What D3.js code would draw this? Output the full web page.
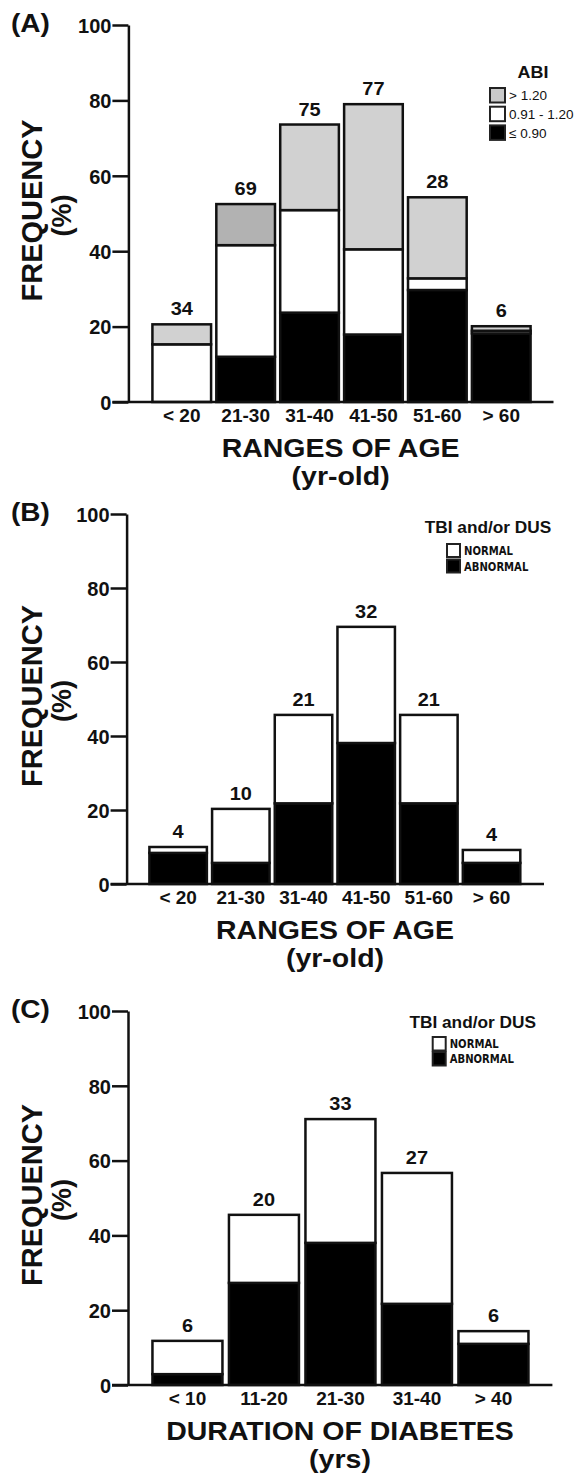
<html><head>
<meta charset="utf-8">
<title>ABI / TBI frequency by age and duration</title>
<script src="https://cdn.jsdelivr.net/npm/d3@7"></script>
<style>
  body { margin: 0; background: #fff; }
  svg { display: block; }
  text { font-family: "Liberation Sans", Arial, Helvetica, sans-serif; fill: #111; }
  .narrow { font-family: "Liberation Sans Narrow", "Arial Narrow", "DejaVu Sans Condensed", sans-serif; }
  .axis path, .axis line { stroke: #111; stroke-width: 2.5px; }
</style>
</head>
<body>
<script>

// ---- data (% of patients) ----
const ageGroups = ["< 20", "21-30", "31-40", "41-50", "51-60", "> 60"];
const durationGroups = ["< 10", "11-20", "21-30", "31-40", "> 40"];
const yTicks = [0, 20, 40, 60, 80, 100];

// (A) ABI classes by age range
const abiLow  = [0,    12.0, 23.7, 17.9, 29.7, 18.2];  // <= 0.90
const abiMid  = [15.3, 29.6, 27.2, 22.6, 3.1,  0.7];   // 0.91 - 1.20
const abiHigh = [5.3,  10.9, 22.7, 38.5, 21.5, 1.2];   // > 1.20
const abiN    = [34, 69, 75, 77, 28, 6];

// (B) TBI and/or DUS by age range
const ageAbnormal = [8.4, 5.7, 21.8, 38.1, 21.8, 5.7];
const ageNormal   = [1.6, 14.6, 23.9, 31.4, 23.9, 3.5];
const ageN        = [4, 10, 21, 32, 21, 4];

// (C) TBI and/or DUS by duration of diabetes
const durAbnormal = [2.9, 27.3, 38.0, 21.7, 11.0];
const durNormal   = [8.9, 18.2, 33.1, 35.0, 3.4];
const durN        = [6, 20, 33, 27, 6];

const abiLegend = [{key: "high", label: "> 1.20"}, {key: "mid", label: "0.91 - 1.20"}, {key: "low", label: "\u2264 0.90"}];
const tbiLegend = [{key: "normal", label: "NORMAL"}, {key: "abnormal", label: "ABNORMAL"}];

const fills = {low: "#000", mid: "#fff", high: "#d1d1d1", abnormal: "#000", normal: "#fff"};

const svg = d3.select("body").append("svg").attr("width", 579).attr("height", 1475);

function label(g, x, y, str, size, weight, anchor, sx) {
  return g.append("text")
    .attr("transform", `translate(${x},${y})` + (sx ? ` scale(${sx},1)` : ""))
    .attr("text-anchor", anchor)
    .style("font-size", size + "px")
    .style("font-weight", weight)
    .text(str);
}

const panels = [
  { tag: "(A)", cats: ageGroups, keys: ["low", "mid", "high"], series: [abiLow, abiMid, abiHigh], n: abiN,
    y0: 402, y100: 25, axisX: 128.4, xr: [149.8, 533.2], pad: 0.082, xEnd: 553.5,
    title: "RANGES OF AGE", sub: "(yr-old)", titleX: 340.6, dark: 1,
    legend: {type: "abi", items: abiLegend, tx: 533, ty: 78, bx: 490, by: 88, step: 18.7, bw: 15, bh: 14.5} },
  { tag: "(B)", cats: ageGroups, keys: ["abnormal", "normal"], series: [ageAbnormal, ageNormal], n: ageN,
    y0: 884, y100: 514, axisX: 126.6, xr: [146.8, 522.9], pad: 0.083, xEnd: 544,
    title: "RANGES OF AGE", sub: "(yr-old)", titleX: 335,
    legend: {type: "tbi", items: tbiLegend, tx: 488, ty: 533, bx: 447, by: 544, step: 15.5, bw: 13, bh: 13} },
  { tag: "(C)", cats: durationGroups, keys: ["abnormal", "normal"], series: [durAbnormal, durNormal], n: durN,
    y0: 1385, y100: 1011, axisX: 128, xr: [149.2, 531.7], pad: 0.085, xEnd: 552.4,
    title: "DURATION OF DIABETES", sub: "(yrs)", titleX: 340,
    legend: {type: "tbi", items: tbiLegend, tx: 472.7, ty: 1027.5, bx: 432.7, by: 1037, step: 15, bw: 13, bh: 13.5} }
];

panels.forEach(p => {
  const g = svg.append("g");
  const y = d3.scaleLinear().domain([0, 100]).range([p.y0, p.y100]);
  const x = d3.scaleBand().domain(p.cats).range(p.xr).paddingInner(p.pad).paddingOuter(p.pad / 2);

  const rows = p.cats.map((c, i) => {
    const r = {cat: c, idx: i};
    p.keys.forEach((k, j) => r[k] = p.series[j][i]);
    return r;
  });
  const stacked = d3.stack().keys(p.keys)(rows);

  // stacked bars
  g.selectAll("g.layer").data(stacked).join("g")
    .attr("class", "layer")
    .selectAll("rect").data(d => d.map(v => Object.assign(v, {key: d.key})))
    .join("rect")
      .attr("x", d => x(d.data.cat))
      .attr("width", x.bandwidth())
      .attr("y", d => y(d[1]))
      .attr("height", d => y(d[0]) - y(d[1]))
      .attr("fill", d => (d.key === "high" && d.data.idx === p.dark) ? "#b2b2b2" : fills[d.key])
      .attr("stroke", "#111")
      .attr("stroke-width", 2.5);

  // n on top of each bar
  rows.forEach((r, i) => {
    const top = d3.sum(p.keys, k => r[k]);
    label(g, x(r.cat) + x.bandwidth() / 2, y(top) - 9, p.n[i], 19, "bold", "middle", 1.05);
  });

  // y axis
  const yAxis = g.append("g").attr("class", "axis")
    .attr("transform", `translate(${p.axisX},0)`)
    .call(d3.axisLeft(y).tickValues(yTicks).tickSize(16).tickSizeOuter(0).tickPadding(1));
  yAxis.selectAll("text").style("font-size", "20px").style("font-weight", "bold").attr("dy", "0.36em");

  // x axis baseline, running out from the 0 tick
  g.append("line").attr("x1", p.axisX - 16).attr("x2", p.xEnd)
    .attr("y1", y(0)).attr("y2", y(0))
    .attr("stroke", "#111").attr("stroke-width", 2.5);

  const xAxis = g.append("g")
    .attr("transform", `translate(0,${y(0)})`)
    .call(d3.axisBottom(x).tickSize(0).tickPadding(7));
  xAxis.select(".domain").remove();
  xAxis.selectAll("text").style("font-size", "19px").style("font-weight", "bold");

  // titles
  label(g, 11, p.y100 + 7, p.tag, 25, "bold", "start", 1.12);
  label(g, p.titleX, p.y0 + 54.5, p.title, 25, "bold", "middle", 1.14);
  label(g, p.titleX, p.y0 + 82.5, p.sub, 25, "bold", "middle", 1.14);

  const mid = (p.y0 + p.y100) / 2;
  g.append("text")
    .attr("transform", `translate(42,${mid - 3}) rotate(-90)`)
    .attr("text-anchor", "middle")
    .style("font-size", "29px")
    .style("font-weight", "bold")
    .text("FREQUENCY");
  g.append("text")
    .attr("transform", `translate(71,${mid + 2}) rotate(-90)`)
    .attr("text-anchor", "middle")
    .style("font-size", "27px")
    .style("font-weight", "bold")
    .text("(%)");

  // legend
  const L = p.legend;
  const lg = g.append("g");
  if (L.type === "abi") {
    label(lg, L.tx, L.ty, "ABI", 16, "bold", "middle", 1.12);
  } else {
    label(lg, L.tx, L.ty, "TBI and/or DUS", 16, "bold", "middle", 1.08);
  }
  L.items.forEach((it, i) => {
    const by = L.by + i * L.step;
    lg.append("rect")
      .attr("x", L.bx).attr("y", by)
      .attr("width", L.bw).attr("height", L.bh)
      .attr("fill", it.key === "high" ? "#c9c9c9" : fills[it.key])
      .attr("stroke", "#222").attr("stroke-width", 2);
    if (L.type === "abi") {
      label(lg, L.bx + L.bw + 4, by + L.bh / 2 + 5, it.label, 13.5, "normal", "start");
    } else {
      label(lg, L.bx + L.bw + 4, by + L.bh / 2 + 4.5, it.label, 13, "bold", "start", 0.86).attr("class", "narrow");
    }
  });
});

</script>
</body>
</html>
